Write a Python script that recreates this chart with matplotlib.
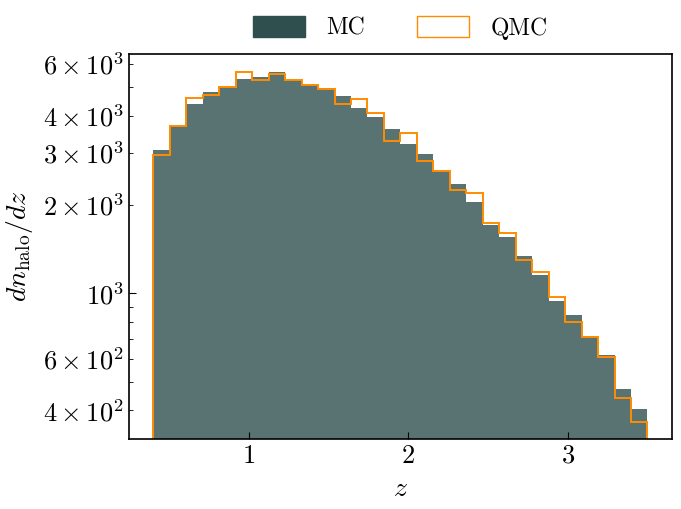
import numpy as np
import matplotlib
matplotlib.use("Agg")
import matplotlib.pyplot as plt
from matplotlib.patches import Patch
from matplotlib.ticker import FixedLocator, FuncFormatter

plt.rcParams['font.family'] = 'serif'
plt.rcParams['font.serif'] = ['cmr10', 'DejaVu Serif']
plt.rcParams['mathtext.fontset'] = 'cm'
plt.rcParams['axes.unicode_minus'] = False

bin_edges = np.linspace(0.4, 3.5, 31)
mc_counts = [3071, 3687, 4399, 4809, 5000, 5337, 5420, 5636, 5295, 5106,
             4962, 4671, 4264, 3974, 3610, 3219, 2970, 2600, 2349, 2041,
             1705, 1556, 1339, 1154, 944, 844, 716, 616, 473, 405]
qmc_counts = [2940, 3687, 4588, 4698, 5000, 5623, 5283, 5537, 5295, 5106,
              4924, 4388, 4553, 4090, 3287, 3491, 2805, 2600, 2242, 2185,
              1728, 1598, 1294, 1178, 969, 797, 709, 608, 441, 365]
labels = ["MC", "QMC"]
ytick_major = [1000]
ytick_minor = [400, 500, 600, 700, 800, 900, 2000, 3000, 4000, 5000, 6000]
ytick_minor_labeled = [400, 600, 2000, 3000, 4000, 6000]
xticks = [1, 2, 3]

mc_color = '#2F4F4F'
qmc_color = '#FF8C00'

fig = plt.figure(figsize=(6.81, 5.09), dpi=100)
ax = fig.add_axes([0.189, 0.1375, 0.798, 0.7565])

centers = 0.5 * (bin_edges[:-1] + bin_edges[1:])
ax.hist(centers, bins=bin_edges, weights=mc_counts, color=mc_color, alpha=0.8,
        histtype='stepfilled', linewidth=0)
ax.hist(centers, bins=bin_edges, weights=qmc_counts, color=qmc_color,
        histtype='step', linewidth=1.4)

ax.set_yscale('log')
ax.set_ylim(320, 6490)
ax.set_xlim(0.245, 3.655)

ax.yaxis.set_major_locator(FixedLocator(ytick_major))
ax.yaxis.set_minor_locator(FixedLocator(ytick_minor))

def fmt(v, pos=None):
    e = int(np.floor(np.log10(v) + 1e-9))
    m = v / 10 ** e
    if abs(m - 1) < 1e-6:
        return r'$10^{%d}$' % e
    if int(round(v)) not in ytick_minor_labeled:
        return ''
    return r'$%d \times 10^{%d}$' % (round(m), e)

ax.yaxis.set_major_formatter(FuncFormatter(fmt))
ax.yaxis.set_minor_formatter(FuncFormatter(fmt))
ax.set_xticks(xticks)
ax.set_xticklabels([r'$%d$' % t for t in xticks])

ax.tick_params(axis='both', which='both', direction='in', labelsize=19)
ax.tick_params(axis='both', which='major', length=5)
ax.tick_params(axis='y', which='minor', length=3)
for s in ax.spines.values():
    s.set_linewidth(1.2)

ax.set_xlabel(r'$z$', fontsize=20, labelpad=6)
ax.set_ylabel(r'$dn_{\rm halo}/dz$', fontsize=20, labelpad=6)

handles = [Patch(facecolor=mc_color, edgecolor=mc_color),
           Patch(facecolor='white', edgecolor=qmc_color)]
ax.legend(handles, labels, loc='lower center', bbox_to_anchor=(0.5, 0.982),
          ncol=2, frameon=False, fontsize=17, handlelength=2.2, handleheight=1.0,
          columnspacing=2.2, handletextpad=0.9)

fig.savefig('out.png', dpi=100)
